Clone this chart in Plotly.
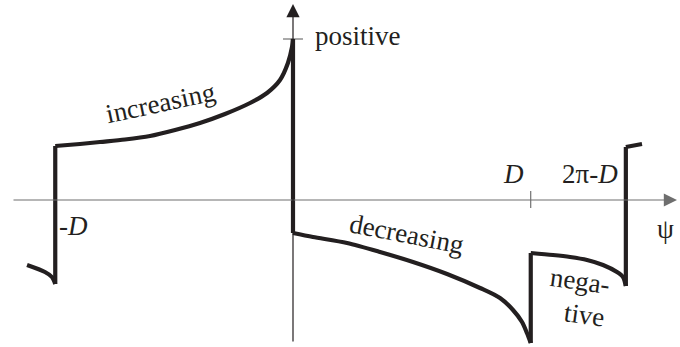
import plotly.graph_objects as go

# Phase angle psi in degrees, D = 150 deg
D = 150

# Tail of the previous period (left of -D)
tail_left_psi = [-167.8, -156.5, -152.1, -150.0]
tail_left_val = [-0.65, -0.72, -0.77, -0.84]

# Increasing branch (-D .. 0)
inc_psi = [-150.0, -134.4, -121.8, -106.0, -90.2, -74.4, -58.7, -42.9, -27.1, -16.4, -8.2, -3.2, -0.6, 0.0]
inc_val = [0.54, 0.56, 0.58, 0.605, 0.64, 0.70, 0.77, 0.86, 0.97, 1.07, 1.20, 1.37, 1.53, 1.61]

# Decreasing branch (0 .. D)
dec_psi = [0.0, 12.6, 34.1, 54.9, 75.7, 97.2, 118.0, 130.6, 138.8, 144.5, 147.6, 150.0]
dec_val = [-0.33, -0.37, -0.43, -0.52, -0.62, -0.74, -0.88, -0.98, -1.10, -1.22, -1.33, -1.43]

# Negative branch (D .. 2pi-D)
neg_psi = [150.0, 164.0, 174.8, 185.5, 195.6, 204.4, 208.2, 210.0]
neg_val = [-0.53, -0.55, -0.57, -0.60, -0.65, -0.72, -0.77, -0.86]

# Start of the next period (right of 2pi-D)
tail_right_psi = [210.0, 220.2]
tail_right_val = [0.53, 0.56]

# Marked level on the vertical axis
positive_level = 1.61

INK = "#231f20"
FONT = "Liberation Serif, Times New Roman, serif"
FS = 27
LW = 4.2

# x range chosen so that 1 deg = 1.585 px and psi = 0 sits at 293 px
px = 1.585
x0 = -293 / px
x1 = (680 - 293) / px
# y: 100 px per unit, zero at 200 px from the top
y1 = 2.0
y0 = 2.0 - 347 / 100

fig = go.Figure()

# thin axis ticks
fig.add_trace(go.Scatter(x=[-6.3, 6.3], y=[positive_level, positive_level], mode="lines",
                         hoverinfo="skip", line=dict(color="#555555", width=1)))
fig.add_trace(go.Scatter(x=[D, D], y=[0.09, -0.08], mode="lines",
                         hoverinfo="skip", line=dict(color="#555555", width=1)))

branches = [(tail_left_psi, tail_left_val), (inc_psi, inc_val), (dec_psi, dec_val),
            (neg_psi, neg_val), (tail_right_psi, tail_right_val)]

# smooth branches
for bx, by in branches:
    fig.add_trace(go.Scatter(x=bx, y=by, mode="lines", hoverinfo="skip",
                             line=dict(color=INK, width=LW, shape="spline", smoothing=0.8)))

# vertical jumps joining the branches
for (ax_, ay_), (bx_, by_) in zip(branches[:-1], branches[1:]):
    fig.add_trace(go.Scatter(x=[ax_[-1], bx_[0]], y=[ay_[-1], by_[0]], mode="lines",
                             hoverinfo="skip", line=dict(color=INK, width=LW)))

annotations = []


def label(text, x, y, angle=0, xanchor="center"):
    annotations.append(dict(x=x, y=y, xref="x", yref="y", text=text, showarrow=False,
                            textangle=angle, xanchor=xanchor, yanchor="middle",
                            font=dict(family=FONT, size=FS, color=INK)))


label("positive", 12.6, 1.64, xanchor="left")
label("increasing", -83.9, 0.97, angle=-12)
label("decreasing", 71.3, -0.34, angle=11)
label("nega-", 181.1, -0.81, angle=8)
label("tive", 184.2, -1.15, angle=8)
label("<i>D</i>", 139.4, 0.26)
label("2π-<i>D</i>", 187.4, 0.26)
label("<i>-D</i>", -138.2, -0.26)
label("ψ", 234.7, -0.29)

# axes drawn as arrows
annotations += [
    dict(x=(677 - 293) / px, y=0, ax=(12 - 293) / px, ay=0, xref="x", yref="y",
         axref="x", ayref="y", showarrow=True, arrowhead=2, arrowsize=2.2,
         arrowwidth=1.2, arrowcolor="#6e6e6e", text=""),
    dict(x=0, y=1.96, ax=0, ay=-1.43, xref="x", yref="y",
         axref="x", ayref="y", showarrow=True, arrowhead=2, arrowsize=2.2,
         arrowwidth=1.2, arrowcolor=INK, text=""),
]

fig.update_layout(
    width=680, height=347,
    margin=dict(l=0, r=0, t=0, b=0),
    font=dict(family=FONT, size=FS, color=INK),
    plot_bgcolor="white",
    showlegend=False,
    xaxis=dict(range=[x0, x1], visible=False),
    yaxis=dict(range=[y0, y1], visible=False),
    annotations=annotations,
)

fig.write_html("out.html")
